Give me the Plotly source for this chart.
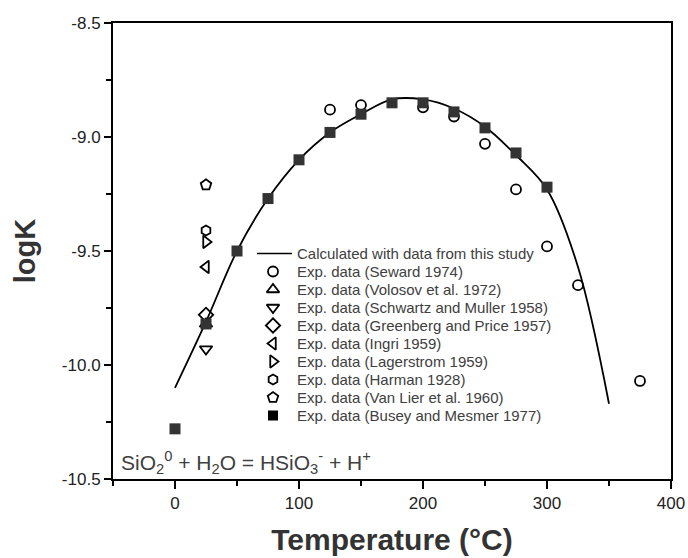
import plotly.graph_objects as go

# ---- data ----
calc_t = [0, 25, 50, 75, 100, 125, 150, 175, 200, 225, 250, 275, 300, 325, 350]
calc_logk = [-10.10, -9.81, -9.50, -9.27, -9.10, -8.98, -8.90, -8.835, -8.835, -8.875,
             -8.955, -9.08, -9.23, -9.57, -10.17]

seward_t = [125, 150, 200, 225, 250, 275, 300, 325, 375]
seward_logk = [-8.88, -8.86, -8.87, -8.91, -9.03, -9.23, -9.48, -9.65, -10.07]

volosov_t = [25]
volosov_logk = [-9.82]
schwartz_t = [25]
schwartz_logk = [-9.93]
greenberg_t = [25]
greenberg_logk = [-9.78]
ingri_t = [25]
ingri_logk = [-9.57]
lagerstrom_t = [25]
lagerstrom_logk = [-9.46]
harman_t = [25]
harman_logk = [-9.41]
vanlier_t = [25]
vanlier_logk = [-9.21]

busey_t = [0, 25, 50, 75, 100, 125, 150, 175, 200, 225, 250, 275, 300]
busey_logk = [-10.28, -9.82, -9.50, -9.27, -9.10, -8.98, -8.90, -8.85, -8.85, -8.89,
              -8.96, -9.07, -9.22]

x_ticks = [0, 100, 200, 300, 400]
y_ticks = [-10.5, -10.0, -9.5, -9.0, -8.5]
y_ticklabels = ["-10.5", "-10.0", "-9.5", "-9.0", "-8.5"]

FONT = "Liberation Sans, Arial, sans-serif"
TXT = "#404040"

# ---- layout constants (pixels of the 688x558 canvas) ----
W, H = 688, 558
ML, MR, MT, MB = 113, 17, 23, 79
PW, PH = W - ML - MR, H - MT - MB


def fx(px):
    return (px - ML) / PW


def fy(py):
    return (H - MB - py) / PH


LEG_LINE_X0, LEG_LINE_X1 = 257, 292
LEG_MARK_X, LEG_TEXT_X = 273, 295
LEG_Y0, LEG_DY = 253.5, 18.0

fig = go.Figure()

calc_name = "Calculated with data from this study"
fig.add_trace(go.Scatter(
    x=calc_t, y=calc_logk, mode="lines", line=dict(color="black", width=1.8, shape="spline"),
    name=calc_name, showlegend=False))

series = [
    ("Exp. data (Seward 1974)", seward_t, seward_logk, "circle-open", 10),
    ("Exp. data (Volosov et al. 1972)", volosov_t, volosov_logk, "triangle-up-open", 11),
    ("Exp. data (Schwartz and Muller 1958)", schwartz_t, schwartz_logk, "triangle-down-open", 11),
    ("Exp. data (Greenberg and Price 1957)", greenberg_t, greenberg_logk, "diamond-open", 11),
    ("Exp. data (Ingri 1959)", ingri_t, ingri_logk, "triangle-left-open", 11),
    ("Exp. data (Lagerstrom 1959)", lagerstrom_t, lagerstrom_logk, "triangle-right-open", 11),
    ("Exp. data (Harman 1928)", harman_t, harman_logk, "hexagon-open", 10),
    ("Exp. data (Van Lier et al. 1960)", vanlier_t, vanlier_logk, "pentagon-open", 11),
    ("Exp. data (Busey and Mesmer 1977)", busey_t, busey_logk, "square", 11),
]
for name, xs, ys, sym, sz in series:
    filled = not sym.endswith("open")
    fig.add_trace(go.Scatter(
        x=xs, y=ys, mode="markers", name=name, showlegend=False,
        marker=dict(symbol=sym, size=sz, color="#333333" if filled else "black",
                    line=dict(color="black", width=0 if filled else 1.8))))

# ---- hand-made legend (tighter row spacing than Plotly's built-in legend) ----
fig.add_trace(go.Scatter(
    x=[fx(LEG_LINE_X0), fx(LEG_LINE_X1)], y=[fy(LEG_Y0)] * 2, xaxis="x2", yaxis="y2",
    mode="lines", line=dict(color="black", width=1.5), showlegend=False, hoverinfo="skip"))
fig.add_annotation(xref="paper", yref="paper", x=fx(LEG_TEXT_X), y=fy(LEG_Y0),
                   xanchor="left", yanchor="middle", text=calc_name, showarrow=False,
                   font=dict(family=FONT, size=15, color=TXT))
for i, (name, xs, ys, sym, sz) in enumerate(series):
    row_y = LEG_Y0 + (i + 1) * LEG_DY
    filled = not sym.endswith("open")
    fig.add_trace(go.Scatter(
        x=[fx(LEG_MARK_X)], y=[fy(row_y)], xaxis="x2", yaxis="y2", mode="markers",
        marker=dict(symbol=sym, size=sz - 1 if filled else sz, color="black",
                    line=dict(color="black", width=0 if filled else 1.8)),
        showlegend=False, hoverinfo="skip"))
    fig.add_annotation(xref="paper", yref="paper", x=fx(LEG_TEXT_X), y=fy(row_y),
                       xanchor="left", yanchor="middle", text=name, showarrow=False,
                       font=dict(family=FONT, size=15, color=TXT))

fig.add_annotation(
    xref="paper", yref="paper", x=fx(119), y=fy(479), xanchor="left", yanchor="bottom",
    text="SiO<sub>2</sub><sup>0</sup> + H<sub>2</sub>O = HSiO<sub>3</sub><sup>-</sup> + H<sup>+</sup>",
    showarrow=False, font=dict(family=FONT, size=21, color=TXT))

fig.update_layout(
    width=W, height=H,
    margin=dict(l=ML, r=MR, t=MT, b=MB),
    paper_bgcolor="white", plot_bgcolor="white",
    font=dict(family=FONT, color="black"),
    showlegend=False,
    xaxis=dict(
        range=[-50, 400], tickvals=x_ticks, ticks="outside", ticklen=8, tickwidth=2,
        tickcolor="black", showline=True, linecolor="black", linewidth=2, mirror=True,
        showgrid=False, zeroline=False, tickfont=dict(family=FONT, size=17, color="#222"),
        minor=dict(ticks="outside", dtick=50, tick0=0, ticklen=5, tickwidth=2, tickcolor="black", showgrid=False),
        title=dict(text="<b>Temperature (°C)</b>", font=dict(family=FONT, size=30, color="#333"), standoff=17),
        automargin=False),
    yaxis=dict(
        range=[-10.5, -8.5], tickvals=y_ticks, ticktext=y_ticklabels, ticks="outside", ticklen=7,
        tickwidth=2, tickcolor="black", showline=True, linecolor="black", linewidth=2, mirror=True,
        showgrid=False, zeroline=False, tickfont=dict(family=FONT, size=17, color="#222"),
        minor=dict(ticks="outside", dtick=0.25, tick0=-8.5, ticklen=5, tickwidth=2, tickcolor="black", showgrid=False),
        title=dict(text="<b>logK</b>", font=dict(family=FONT, size=29, color="#333"), standoff=18),
        automargin=False),
    xaxis2=dict(overlaying="x", range=[0, 1], visible=False, fixedrange=True),
    yaxis2=dict(overlaying="y", range=[0, 1], visible=False, fixedrange=True),
)

fig.write_html("out.html")
